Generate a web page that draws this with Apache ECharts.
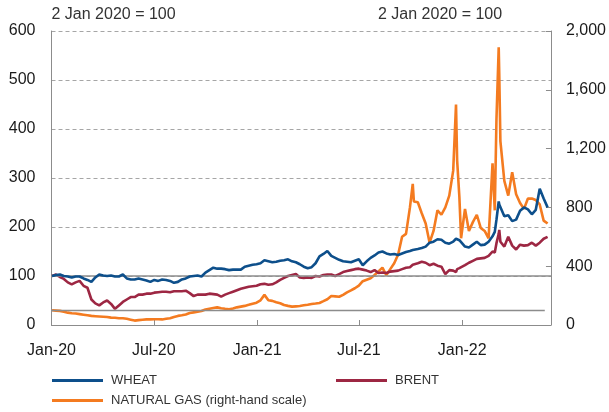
<!DOCTYPE html>
<html>
<head>
<meta charset="utf-8">
<script src="https://cdn.jsdelivr.net/npm/echarts@6/dist/echarts.min.js"></script>
<style>
  html, body { margin: 0; padding: 0; background: #fff; }
  #chart { width: 609px; height: 412px; }
</style>
</head>
<body>
<div id="chart"></div>
<script>
// Wheat, Brent and natural gas prices, 2 Jan 2020 = 100
var dates = [
  '2020-01-02','2020-01-09','2020-01-16','2020-01-23','2020-01-30','2020-02-06','2020-02-13','2020-02-20','2020-02-27',
  '2020-03-05','2020-03-12','2020-03-19','2020-03-26','2020-04-02','2020-04-09','2020-04-16','2020-04-23','2020-04-30',
  '2020-05-07','2020-05-14','2020-05-21','2020-05-28','2020-06-04','2020-06-11','2020-06-18','2020-06-25',
  '2020-07-02','2020-07-09','2020-07-16','2020-07-23','2020-07-30','2020-08-06','2020-08-13','2020-08-20','2020-08-27',
  '2020-09-03','2020-09-10','2020-09-17','2020-09-24','2020-10-01','2020-10-08','2020-10-15','2020-10-22','2020-10-29',
  '2020-11-05','2020-11-12','2020-11-19','2020-11-26','2020-12-03','2020-12-10','2020-12-17','2020-12-24','2020-12-31',
  '2021-01-07','2021-01-14','2021-01-21','2021-01-28','2021-02-04','2021-02-11','2021-02-18','2021-02-25',
  '2021-03-04','2021-03-11','2021-03-18','2021-03-25','2021-04-01','2021-04-08','2021-04-15','2021-04-22','2021-04-29',
  '2021-05-06','2021-05-13','2021-05-20','2021-05-27','2021-06-03','2021-06-10','2021-06-17','2021-06-24',
  '2021-07-01','2021-07-08','2021-07-15','2021-07-22','2021-07-29','2021-08-05','2021-08-12','2021-08-19','2021-08-26',
  '2021-09-02','2021-09-09','2021-09-16','2021-09-23','2021-09-30','2021-10-05','2021-10-07','2021-10-14','2021-10-21','2021-10-28',
  '2021-11-04','2021-11-11','2021-11-18','2021-11-25','2021-12-02','2021-12-09','2021-12-16','2021-12-21','2021-12-23','2021-12-27','2021-12-30',
  '2022-01-06','2022-01-13','2022-01-20','2022-01-27','2022-02-03','2022-02-10','2022-02-17','2022-02-24','2022-02-28',
  '2022-03-03','2022-03-07','2022-03-08','2022-03-10','2022-03-17','2022-03-24','2022-03-31',
  '2022-04-07','2022-04-14','2022-04-21','2022-04-28','2022-05-05','2022-05-12','2022-05-19','2022-05-26','2022-06-02'
];

var wheat = [
  100,102,103,100,99,97,99,99,95,
  92,88,97,103,101,100,101,99,99,
  103,95,93,93,95,93,91,88,
  92,90,93,92,90,86,88,93,95,
  99,100,101,99,107,112,117,115,115,
  114,112,113,113,113,119,121,123,124,
  126,132,130,128,129,131,132,134,
  130,128,124,119,116,118,126,140,145,
  151,141,137,133,130,129,128,131,
  134,122,130,137,142,148,150,146,144,
  145,143,146,149,151,153,154,155,157,160,
  168,170,175,174,168,166,170,176,175,173,170,
  160,158,164,170,163,164,170,181,190,
  215,252,246,243,222,224,212,
  215,233,240,236,226,235,278,258,240
];

var brent = [
  100,103,98,94,87,83,87,90,80,
  76,52,44,40,46,50,43,33,40,
  47,52,57,57,62,62,64,64,
  66,67,68,68,67,69,69,69,70,
  65,59,62,62,62,64,63,62,58,
  62,65,68,71,74,76,78,79,80,
  83,84,82,83,87,92,96,100,
  102,104,97,96,97,96,100,99,102,
  103,103,100,104,108,110,112,114,
  115,113,111,108,112,106,107,106,109,
  110,111,114,117,118,123,124,126,129,127,
  122,125,121,119,104,112,111,108,114,116,118,
  122,127,131,135,136,137,141,150,148,
  167,186,194,170,160,180,162,
  154,164,162,163,168,162,168,176,180
];

var gas = [
  100,98,96,90,84,80,78,74,70,
  66,62,60,58,56,54,50,49,46,
  46,42,36,30,33,36,38,38,
  39,39,38,42,46,55,62,66,72,
  82,86,90,95,105,110,115,120,114,
  110,107,112,120,125,130,137,145,152,
  168,205,168,164,155,148,136,130,
  125,127,129,134,138,143,146,150,162,
  175,197,195,192,205,222,235,250,
  268,298,308,318,340,365,390,340,380,
  420,480,600,620,800,960,840,835,760,690,
  560,640,780,750,800,880,1050,1500,1120,870,590,
  790,640,700,750,660,640,590,1100,780,
  1400,1890,1700,1250,980,880,1040,
  890,830,790,860,860,850,820,710,690
];

var tickDates = ['2020-01-01', '2020-07-01', '2021-01-01', '2021-07-01', '2022-01-01'];
var tickLabels = ['Jan-20', 'Jul-20', 'Jan-21', 'Jul-21', 'Jan-22'];

var labelFont = "'Liberation Sans', Arial, Helvetica, sans-serif";
var legendFont = "'Liberation Sans Narrow', 'Arial Narrow', 'Liberation Sans', sans-serif";
var gridGrey = '#a6a6a6';
var axisGrey = '#8c8c8c';

function ts(d) { return Date.parse(d + 'T00:00:00Z'); }
var tickTimes = tickDates.map(ts);

function pairs(vals) {
  return dates.map(function (d, i) { return [ts(d), vals[i]]; });
}

var titleStyle = { fontFamily: labelFont, fontSize: 16, fontWeight: 'normal', color: '#333' };
var legendText = { fontFamily: legendFont, fontSize: 13, color: '#333', padding: [0, 0, 0, 3] };

var chart = echarts.init(document.getElementById('chart'), null, { renderer: 'canvas' });
chart.setOption({
  animation: false,
  title: [
    { text: '2 Jan 2020 = 100', left: 51.5, top: 7, padding: 0, textStyle: titleStyle },
    { text: '2 Jan 2020 = 100', left: 378, top: 7, padding: 0, textStyle: titleStyle }
  ],
  legend: [
    { data: ['WHEAT'], left: 52, top: 374, padding: 0, itemWidth: 51, itemHeight: 3, icon: 'rect', textStyle: legendText },
    { data: ['BRENT'], left: 336, top: 374, padding: 0, itemWidth: 51, itemHeight: 3, icon: 'rect', textStyle: legendText },
    { data: ['NATURAL GAS (right-hand scale)'], left: 52, top: 394, padding: 0, itemWidth: 51, itemHeight: 3, icon: 'rect', textStyle: legendText }
  ],
  grid: { left: 51.5, right: 57.5, top: 31, bottom: 87 },
  xAxis: {
    type: 'value',
    min: ts('2020-01-01'),
    max: ts('2022-06-08'),
    axisLine: { lineStyle: { color: axisGrey, width: 1 } },
    axisTick: { show: true, inside: true, length: 5, customValues: tickTimes, lineStyle: { color: axisGrey } },
    axisLabel: {
      customValues: tickTimes,
      margin: 18,
      fontFamily: labelFont, fontSize: 16, color: '#1a1a1a',
      formatter: function (v) {
        var i = tickTimes.indexOf(v);
        return i >= 0 ? tickLabels[i] : '';
      }
    },
    splitLine: { show: false }
  },
  yAxis: [
    {
      type: 'value', min: 0, max: 600, interval: 100,
      axisLine: { show: true, lineStyle: { color: axisGrey } },
      axisTick: { show: false },
      axisLabel: { margin: 16, fontFamily: labelFont, fontSize: 16, color: '#1a1a1a' },
      splitLine: { show: true, lineStyle: { color: gridGrey, type: [4, 3], width: 1 } }
    },
    {
      type: 'value', min: 0, max: 2000, interval: 400,
      axisLine: { show: true, lineStyle: { color: axisGrey } },
      axisTick: { show: true, inside: true, length: 5, lineStyle: { color: axisGrey } },
      axisLabel: {
        margin: 15, fontFamily: labelFont, fontSize: 16, color: '#1a1a1a',
        formatter: function (v) { return v.toLocaleString('en-US'); }
      },
      splitLine: { show: false }
    }
  ],
  series: [
    {
      name: 'NATURAL GAS (right-hand scale)', type: 'line', yAxisIndex: 1,
      data: pairs(gas), showSymbol: false, symbol: 'none',
      lineStyle: { color: '#f47b20', width: 2.6 }, itemStyle: { color: '#f47b20' },
      markLine: {
        silent: true, symbol: 'none', label: { show: false },
        lineStyle: { color: axisGrey, type: 'solid', width: 1.3 },
        data: [[{ coord: [ts('2020-01-01'), 100] }, { coord: [ts('2022-05-28'), 100] }]]
      },
      z: 3
    },
    {
      name: 'BRENT', type: 'line', data: pairs(brent), showSymbol: false, symbol: 'none',
      lineStyle: { color: '#9d2743', width: 2.6 }, itemStyle: { color: '#9d2743' },
      z: 4
    },
    {
      name: 'WHEAT', type: 'line', data: pairs(wheat), showSymbol: false, symbol: 'none',
      lineStyle: { color: '#0d4f8b', width: 2.6 }, itemStyle: { color: '#0d4f8b' },
      markLine: {
        silent: true, symbol: 'none', label: { show: false },
        lineStyle: { color: axisGrey, type: 'solid', width: 1.5 },
        data: [{ yAxis: 100 }]
      },
      z: 5
    }
  ]
});
</script>
</body>
</html>
